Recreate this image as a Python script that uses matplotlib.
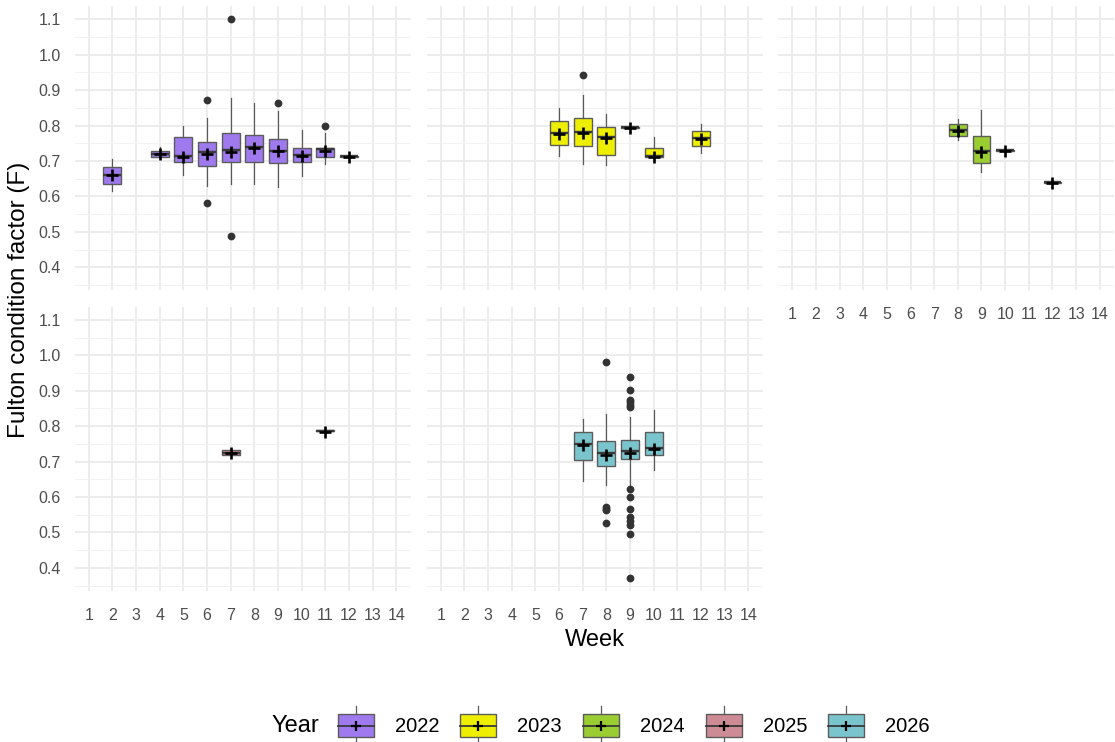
import matplotlib
matplotlib.use("Agg")
import matplotlib.pyplot as plt
from matplotlib.legend_handler import HandlerBase
from matplotlib.patches import Rectangle, Patch
from matplotlib.lines import Line2D
from matplotlib.ticker import FixedLocator, MultipleLocator

plt.rcParams['font.family'] = ['Liberation Sans', 'DejaVu Sans']

# ---------------------------------------------------------------- data
week_levels = list(range(1, 15))
y_breaks = [0.4, 0.5, 0.6, 0.7, 0.8, 0.9, 1.0, 1.1]
years = ['2022', '2023', '2024', '2025', '2026']
year_colors = ['#9F79EE', '#EEEE00', '#9ACD32', '#CD8C95', '#7AC5CD']

weeks_2022 = [2, 4, 5, 6, 7, 8, 9, 10, 11, 12]
whislo_2022 = [0.614, 0.705, 0.661, 0.630, 0.634, 0.634, 0.626, 0.657, 0.692, 0.709]
q1_2022 = [0.636, 0.710, 0.698, 0.686, 0.698, 0.698, 0.695, 0.698, 0.710, 0.711]
med_2022 = [0.661, 0.720, 0.715, 0.724, 0.730, 0.739, 0.729, 0.718, 0.733, 0.713]
q3_2022 = [0.684, 0.728, 0.768, 0.754, 0.780, 0.774, 0.763, 0.738, 0.738, 0.714]
whishi_2022 = [0.706, 0.739, 0.798, 0.822, 0.879, 0.863, 0.842, 0.787, 0.778, 0.716]
mean_2022 = [0.660, 0.719, 0.711, 0.719, 0.725, 0.736, 0.727, 0.715, 0.729, 0.710]
fliers_2022 = [[], [], [], [0.873, 0.581], [1.100, 0.487], [], [0.865], [], [0.800], []]

weeks_2023 = [6, 7, 8, 9, 10, 12]
whislo_2023 = [0.713, 0.692, 0.689, 0.791, 0.703, 0.722]
q1_2023 = [0.745, 0.741, 0.718, 0.792, 0.711, 0.742]
med_2023 = [0.780, 0.782, 0.767, 0.795, 0.715, 0.765]
q3_2023 = [0.814, 0.821, 0.797, 0.797, 0.738, 0.785]
whishi_2023 = [0.849, 0.886, 0.832, 0.799, 0.767, 0.805]
mean_2023 = [0.777, 0.779, 0.764, 0.794, 0.711, 0.763]
fliers_2023 = [[], [0.944], [], [], [], []]

weeks_2024 = [8, 9, 10, 12]
whislo_2024 = [0.759, 0.669, 0.728, 0.639]
q1_2024 = [0.771, 0.695, 0.729, 0.639]
med_2024 = [0.788, 0.727, 0.730, 0.640]
q3_2024 = [0.803, 0.770, 0.730, 0.641]
whishi_2024 = [0.818, 0.845, 0.731, 0.641]
mean_2024 = [0.785, 0.724, 0.729, 0.637]
fliers_2024 = [[], [], [], []]

weeks_2025 = [7, 11]
whislo_2025 = [0.719, 0.786]
q1_2025 = [0.719, 0.786]
med_2025 = [0.725, 0.787]
q3_2025 = [0.732, 0.788]
whishi_2025 = [0.732, 0.788]
mean_2025 = [0.723, 0.784]
fliers_2025 = [[], []]

weeks_2026 = [7, 8, 9, 10]
whislo_2026 = [0.645, 0.635, 0.628, 0.676]
q1_2026 = [0.704, 0.687, 0.707, 0.719]
med_2026 = [0.751, 0.723, 0.730, 0.739]
q3_2026 = [0.783, 0.758, 0.760, 0.783]
whishi_2026 = [0.821, 0.834, 0.827, 0.846]
mean_2026 = [0.746, 0.719, 0.725, 0.736]
fliers_2026 = [[], [0.981, 0.573, 0.567, 0.562, 0.526],
               [0.938, 0.902, 0.875, 0.868, 0.860, 0.853,
                0.622, 0.601, 0.567, 0.543, 0.533, 0.522, 0.496, 0.371], []]

panels = [
    (weeks_2022, whislo_2022, q1_2022, med_2022, q3_2022, whishi_2022, mean_2022, fliers_2022),
    (weeks_2023, whislo_2023, q1_2023, med_2023, q3_2023, whishi_2023, mean_2023, fliers_2023),
    (weeks_2024, whislo_2024, q1_2024, med_2024, q3_2024, whishi_2024, mean_2024, fliers_2024),
    (weeks_2025, whislo_2025, q1_2025, med_2025, q3_2025, whishi_2025, mean_2025, fliers_2025),
    (weeks_2026, whislo_2026, q1_2026, med_2026, q3_2026, whishi_2026, mean_2026, fliers_2026),
]

# ---------------------------------------------------------------- style
EDGE = '#5c5c5c'
MEDIAN = '#3a3a3a'
WHISKER = '#5a5a5a'
GRID = '#EBEBEB'
TICK_COLOR = '#4D4D4D'

W, H = 1115, 742
fig = plt.figure(figsize=(W / 100, H / 100), dpi=100)
fig.patch.set_facecolor('white')

# shared y limits from the data (5 % expansion)
all_vals = []
for p in panels:
    all_vals += p[1] + p[5] + p[6]
    for f in p[7]:
        all_vals += f
lo, hi = min(all_vals), max(all_vals)
pad = 0.05 * (hi - lo)
ylims = (lo - pad, hi + pad)

col_left = [74.5, 426.5, 778]
row_top = [6.4, 307]
pw, ph = 336, 284


def make_axes(row, col):
    l = col_left[col]
    t = row_top[row]
    return fig.add_axes([l / W, 1 - (t + ph) / H, pw / W, ph / H])


layout = [(0, 0), (0, 1), (0, 2), (1, 0), (1, 1)]
show_x = [False, False, True, True, True]

for i, ((row, col), p) in enumerate(zip(layout, panels)):
    ax = make_axes(row, col)
    weeks, wl, q1, md, q3, wh, mn, fl = p
    stats = [dict(whislo=a, q1=b, med=c, q3=d, whishi=e, fliers=f)
             for a, b, c, d, e, f in zip(wl, q1, md, q3, wh, fl)]
    bp = ax.bxp(stats, positions=weeks, widths=0.75, patch_artist=True,
                showcaps=False, manage_ticks=False,
                boxprops=dict(edgecolor=EDGE, linewidth=1.0),
                whiskerprops=dict(color=WHISKER, linewidth=0.9),
                medianprops=dict(color=MEDIAN, linewidth=1.7),
                flierprops=dict(marker='o', markerfacecolor='#333333',
                                markeredgecolor='none', markersize=5.6))
    for b in bp['boxes']:
        b.set_facecolor(year_colors[i])
    ax.plot(weeks, mn, linestyle='none', marker='+', color='black',
            markersize=9, markeredgewidth=1.9, zorder=5)

    ax.set_xlim(0.4, 14.6)
    ax.set_ylim(*ylims)
    ax.xaxis.set_major_locator(FixedLocator(week_levels))
    ax.yaxis.set_major_locator(FixedLocator(y_breaks))
    ax.yaxis.set_minor_locator(MultipleLocator(0.05))
    ax.set_axisbelow(True)
    ax.grid(True, which='major', color=GRID, linewidth=1.3)
    ax.grid(True, which='minor', axis='y', color='#F2F2F2', linewidth=0.7)
    for s in ax.spines.values():
        s.set_visible(False)
    ax.tick_params(axis='both', which='both', length=0, colors=TICK_COLOR,
                   labelsize=11.5)
    ax.tick_params(axis='y', pad=10)
    ax.tick_params(axis='x', pad=12)
    if show_x[i]:
        ax.set_xticklabels([str(w) for w in week_levels])
    else:
        ax.set_xticklabels([])
    if col == 0:
        ax.set_yticklabels([f'{v:.1f}' for v in y_breaks])
    else:
        ax.set_yticklabels([])

fig.text(19 / W, 1 - 300 / H, 'Fulton condition factor (F)', rotation=90,
         ha='center', va='center', fontsize=17.5, color='black')
fig.text(595 / W, 1 - 640 / H, 'Week', ha='center', va='center',
         fontsize=17, color='black')


class BoxKey(HandlerBase):
    def create_artists(self, legend, orig_handle, xdescent, ydescent,
                       width, height, fontsize, trans):
        x0, y0 = -xdescent, -ydescent
        cx = x0 + width / 2
        ext = 0.32 * height
        whisker = Line2D([cx, cx], [y0 - ext, y0 + height + ext],
                         color=WHISKER, lw=0.9)
        box = Rectangle((x0, y0), width, height,
                        facecolor=orig_handle.get_facecolor(),
                        edgecolor=EDGE, lw=1.0)
        median = Line2D([x0, x0 + width], [y0 + height / 2] * 2,
                        color=MEDIAN, lw=1.3)
        mean = Line2D([cx], [y0 + height / 2], marker='+', markersize=6.5,
                      markeredgewidth=1.6, color='black', linestyle='none')
        for a in (whisker, box, median, mean):
            a.set_transform(trans)
        return [whisker, box, median, mean]


handles = [Patch(facecolor=c) for c in year_colors]
fig.legend(handles, years, loc='center left',
           bbox_to_anchor=(338 / W, 1 - 725.5 / H), ncol=5, frameon=False,
           fontsize=14.5, handlelength=1.79, handleheight=1.4,
           handletextpad=1.04, columnspacing=1.04, borderpad=0,
           borderaxespad=0, handler_map={Patch: BoxKey()})
fig.text(271 / W, 1 - 725.5 / H, 'Year', ha='left', va='center',
         fontsize=17, color='black')

fig.savefig('out.png', dpi=100, facecolor='white')
